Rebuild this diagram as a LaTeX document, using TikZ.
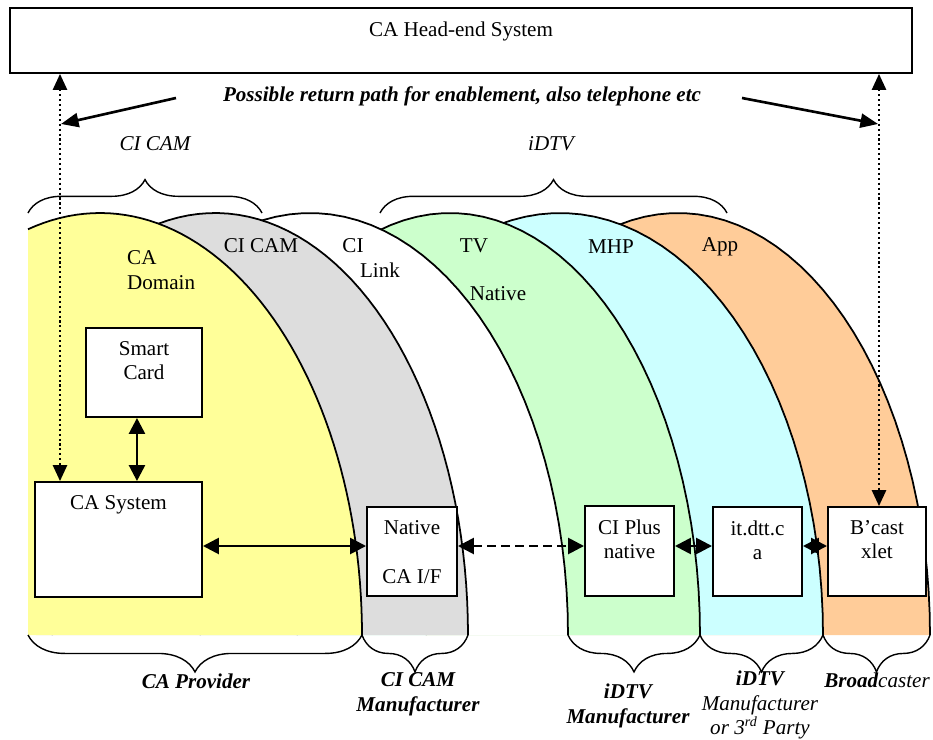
\documentclass[tikz,border=0pt]{standalone}
\usepackage{fontspec}
\setmainfont{Liberation Serif}
\usetikzlibrary{positioning,fit,arrows.meta,decorations.pathreplacing}
\definecolor{cadomain}{HTML}{FFFF99}
\definecolor{cicam}{HTML}{DDDDDD}
\definecolor{tvnative}{HTML}{CCFFCC}
\definecolor{mhp}{HTML}{CCFFFF}
\definecolor{app}{HTML}{FFCC99}
\tikzset{
  layer/.style={draw=black, line width=1pt},
  unit/.style={draw=black, line width=1.1pt, fill=white, inner sep=0pt},
  unittext/.style={anchor=north, align=center, inner sep=0pt, yshift=-8pt},
  link/.style={line width=1.5pt, {Triangle[length=9pt,width=9pt]}-{Triangle[length=9pt,width=9pt]}},
  ret/.style={line width=1.2pt, dash pattern=on 1.2pt off 1.6pt, {Triangle[length=9pt,width=8pt]}-{Triangle[length=9pt,width=8pt]}},
  pointer/.style={line width=1.5pt, -{Triangle[length=10pt,width=8pt]}},
  braceup/.style={decorate, decoration={brace, amplitude=19pt}, line width=0.8pt},
  bracedown/.style={decorate, decoration={brace, mirror, amplitude=21pt}, line width=0.8pt},
  role/.style={align=center, font=\fontsize{12}{14}\selectfont\itshape}
}
\begin{document}
\begin{tikzpicture}[x=0.02cm, y=-0.02cm, font=\fontsize{12}{13.8}\selectfont]
  \useasboundingbox (0,0) rectangle (933,740);
  \foreach \cx/\ax/\sa/\col in {678/252/180/app, 560/263/180/mhp, 450/250/180/tvnative,
      310/258/180/white, 215/253/135/cicam, 100/262/105.95/cadomain}{
    \fill[\col] ({\cx+\ax*cos(\sa)},635) -- plot[domain=\sa:0, samples=60, variable=\t]
      ({\cx+\ax*cos(\t)},{635-422*sin(\t)}) -- cycle;
    \draw[layer] plot[domain=\sa:0, samples=60, variable=\t] ({\cx+\ax*cos(\t)},{635-422*sin(\t)});
  }
  \node (cadom) [anchor=west, align=left] at (121,270) {CA\\Domain};
  \node (cicamlbl) at (261,246) {CI CAM};
  \node (cilbl) at (353,246) {CI};
  \node (linklbl) at (380,270) {Link};
  \node (tvlbl) at (474,246) {TV};
  \node (nativelbl) at (498,294) {Native};
  \node (mhplbl) at (611,247) {MHP};
  \node (applbl) at (720,247) {App};

  \node (headend) [unit, fit={(10,8) (912,73)}, label={[unittext]north:CA Head-end System}] {};
  \node (smartcard) [unit, fit={(86,328) (202,417)}, label={[unittext]north:Smart\\Card}] {};
  \node (casystem) [unit, fit={(35,482) (202,597)}, label={[unittext]north:CA System}] {};
  \node (nativeif) [unit, fit={(367,507) (457,596)}, label={[unittext]north:Native\\[14pt]CA I/F}] {};
  \node (ciplus) [unit, fit={(585,506) (674,596)}, label={[unittext]north:CI Plus\\native}] {};
  \node (itdtt) [unit, fit={(713,507) (802,596)}, label={[unittext]north:it.dtt.c\\a}] {};
  \node (bcast) [unit, fit={(828,507) (926,596)}, label={[unittext]north:B’cast\\xlet}] {};

  \draw[link] ([xshift=-4pt]smartcard.south) -- ([xshift=-4pt]smartcard.south |- casystem.north);
  \coordinate (bus) at (0,546);
  \draw[link] (casystem.east |- bus) -- (nativeif.west |- bus);
  \draw[link, dash pattern=on 5pt off 3pt] (nativeif.east |- bus) -- (ciplus.west |- bus);
  \draw[link] (ciplus.east |- bus) -- (itdtt.west |- bus);
  \draw[link] (itdtt.east |- bus) -- (bcast.west |- bus);

  \coordinate (retL) at (60,0);
  \coordinate (retR) at (879,0);
  \draw[ret] (retL |- headend.south) -- (retL |- casystem.north);
  \draw[ret] (retR |- headend.south) -- (retR |- bcast.north);
  \node (retpath) at (462,96) {\bfseries\itshape Possible return path for enablement, also telephone etc};
  \coordinate (pathL) at (176,98);
  \coordinate (hitL) at (61,124);
  \coordinate (pathR) at (742,98);
  \coordinate (hitR) at (878,124);
  \draw[pointer] (pathL) -- (hitL);
  \draw[pointer] (pathR) -- (hitR);

  \node (cicamtop) at (155,144) {\itshape CI CAM};
  \node (idtvtop) at (551,144) {\itshape iDTV};
  \draw[braceup] (28,213) -- (262,213);
  \draw[braceup] (380,213) -- (727,213);

  \draw[bracedown] (28,635) -- (362,635);
  \draw[bracedown] (362,635) -- (468,635);
  \draw[bracedown] (568,635) -- (700,635);
  \draw[bracedown] (700,635) -- (823,635);
  \draw[bracedown] (823,635) -- (930,635);
  \node (caprov) [role] at (196,681) {\bfseries CA Provider};
  \node (cicamman) [role] at (418,694) {\bfseries CI CAM\\\bfseries Manufacturer};
  \node (idtvman) [role] at (628,706) {\bfseries iDTV\\\bfseries Manufacturer};
  \node (idtvthird) [role] at (760,705) {\bfseries iDTV\\Manufacturer\\or 3\textsuperscript{rd} Party};
  \node (bcaster) [role] at (877,680) {\bfseries Broad\mdseries caster};
\end{tikzpicture}
\end{document}
